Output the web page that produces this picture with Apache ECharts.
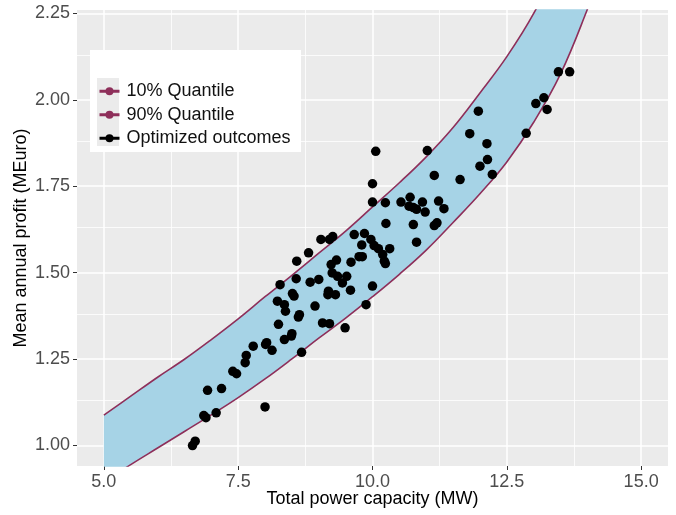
<!DOCTYPE html>
<html>
<head>
<meta charset="utf-8">
<script src="https://cdn.jsdelivr.net/npm/echarts@6/dist/echarts.min.js"></script>
<style>
html,body{margin:0;padding:0;background:#fff;}
#chart{width:676px;height:515px;}
</style>
</head>
<body>
<div id="chart"></div>
<script>
// ---- data ----
const xTicks = [5.0, 7.5, 10.0, 12.5, 15.0];
const yTicks = [1.00, 1.25, 1.50, 1.75, 2.00, 2.25];
const xMinor = [6.25, 8.75, 11.25, 13.75];
const yMinor = [1.125, 1.375, 1.625, 1.875, 2.125];

// quantile curves, sampled at common capacities (values above 2.26 lie outside the panel and are estimates)
const curveX = [5.0, 5.5, 6.0, 6.5, 7.0, 7.5, 8.0, 8.5, 9.0, 9.5, 10.0, 10.5, 11.0, 11.5, 12.0, 12.5, 13.0, 13.5, 14.0, 14.2];
const q10 = [0.893, 0.944, 0.992, 1.040, 1.088, 1.138, 1.192, 1.250, 1.310, 1.368, 1.430, 1.495, 1.565, 1.645, 1.728, 1.820, 1.935, 2.075, 2.262, 2.350];
const q90 = [1.087, 1.142, 1.197, 1.249, 1.306, 1.366, 1.430, 1.492, 1.556, 1.620, 1.690, 1.760, 1.835, 1.920, 2.020, 2.125, 2.250, 2.410, 2.600, 2.680];

// optimized outcomes
const ptsX = [6.65, 6.70, 6.86, 6.90, 7.09, 6.93, 7.19, 8.00, 7.40, 7.47, 7.63, 7.65, 7.78, 8.01, 8.03, 8.13, 8.36, 8.50, 8.49, 8.68,
  9.04, 9.20, 9.26, 9.66, 9.85, 8.81, 8.59, 9.80, 9.97, 10.03, 10.11, 10.32, 10.19, 10.22, 10.24, 9.60, 9.75, 9.81, 9.33, 9.23,
  9.25, 9.35, 9.52, 9.44, 8.58, 8.28, 8.84, 9.00, 9.59, 9.18, 9.17, 9.31, 8.51, 8.54, 8.23, 8.36, 8.38, 8.93, 8.64, 8.62,
  9.88, 8.25, 9.07, 9.20, 9.49, 10.06, 11.02, 10.00, 11.15, 11.63, 10.00, 10.24, 10.53, 10.70, 10.68, 10.76, 10.82, 10.93, 10.98, 11.23,
  11.33, 10.25, 10.76, 11.15, 11.20, 10.82, 13.46, 13.67, 13.04, 13.19, 13.25, 11.97, 11.81, 12.86, 12.13, 12.14, 12.00, 12.23, 10.00];
const ptsY = [0.999, 1.012, 1.086, 1.080, 1.094, 1.159, 1.164, 1.111, 1.214, 1.207, 1.239, 1.260, 1.287, 1.292, 1.297, 1.275, 1.306, 1.323, 1.316, 1.269,
  1.596, 1.596, 1.604, 1.610, 1.613, 1.557, 1.533, 1.580, 1.596, 1.578, 1.569, 1.569, 1.552, 1.533, 1.526, 1.530, 1.546, 1.546, 1.536, 1.523,
  1.499, 1.489, 1.489, 1.470, 1.482, 1.465, 1.472, 1.480, 1.449, 1.446, 1.436, 1.436, 1.439, 1.432, 1.417, 1.407, 1.388, 1.403, 1.378, 1.371,
  1.407, 1.350, 1.354, 1.352, 1.340, 1.851, 1.853, 1.757, 1.781, 1.769, 1.704, 1.702, 1.704, 1.718, 1.692, 1.688, 1.683, 1.704, 1.675, 1.707,
  1.685, 1.642, 1.639, 1.636, 1.644, 1.588, 2.081, 2.081, 1.989, 2.006, 1.972, 1.967, 1.902, 1.903, 1.873, 1.827, 1.808, 1.784, 1.461];

const legendNames = ['10% Quantile', '90% Quantile', 'Optimized outcomes'];
const xTitle = 'Total power capacity (MW)';
const yTitle = 'Mean annual profit (MEuro)';

// ---- build ----
// profit listed first so that ECharts stacks on the profit (y) dimension
const lowerData = q10.map((v, i) => [v, curveX[i]]);
const bandWidth = q90.map((v, i) => [v - q10[i], curveX[i]]); // stacked on the 10% curve -> 90% curve
const pts = ptsX.map((v, i) => [v, ptsY[i]]);

const FONT = '"Liberation Sans", Arial, sans-serif';
const LINE = '#8e2f5a';
const BAND = '#a6d3e6';
const SMOOTH = 0.4;
const DIMS = ['profit', 'capacity'];
const ENC = { x: 'capacity', y: 'profit' };

const gridLines = []
  .concat(xTicks.map(v => ({ xAxis: v, lineStyle: { width: 1.5 } })))
  .concat(xMinor.map(v => ({ xAxis: v, lineStyle: { width: 0.8 } })))
  .concat(yTicks.map(v => ({ yAxis: v, lineStyle: { width: 1.5 } })))
  .concat(yMinor.map(v => ({ yAxis: v, lineStyle: { width: 0.8 } })));

const chart = echarts.init(document.getElementById('chart'), null, { renderer: 'canvas' });
chart.setOption({
  animation: false,
  backgroundColor: '#ffffff',
  grid: { left: 77, right: 8, top: 10, bottom: 49, show: true, backgroundColor: '#ebebeb', borderWidth: 0 },
  xAxis: {
    type: 'value', min: 4.5, max: 15.5,
    axisLine: { show: false },
    axisTick: { show: true, customValues: xTicks, length: 4, lineStyle: { color: '#333333', width: 1 } },
    axisLabel: { customValues: xTicks, formatter: v => v.toFixed(1), color: '#4d4d4d', fontSize: 18, fontFamily: FONT, margin: 7 },
    splitLine: { show: false }
  },
  yAxis: {
    type: 'value', min: 0.94, max: 2.26,
    axisLine: { show: false },
    axisTick: { show: true, customValues: yTicks, length: 4, lineStyle: { color: '#333333', width: 1 } },
    axisLabel: { customValues: yTicks, formatter: v => v.toFixed(2), color: '#4d4d4d', fontSize: 18, fontFamily: FONT, margin: 7 },
    splitLine: { show: false }
  },
  legend: {
    orient: 'vertical', left: 98, top: 80, z: 20, padding: 0,
    itemWidth: 20, itemHeight: 10, itemGap: 1,
    textStyle: { fontSize: 18, fontFamily: FONT, color: '#111111', lineHeight: 22.5, padding: [0, 0, 0, 2] },
    data: [
      { name: legendNames[0], lineStyle: { width: 3, opacity: 1 } },
      { name: legendNames[1], lineStyle: { width: 3, opacity: 1 } },
      { name: legendNames[2], lineStyle: { width: 3, opacity: 1, color: '#000000' } }
    ]
  },
  graphic: [
    { type: 'rect', z: 10, shape: { x: 90, y: 50, width: 211, height: 102 }, style: { fill: '#ffffff' } },
    { type: 'rect', z: 11, shape: { x: 97, y: 78, width: 22, height: 68 }, style: { fill: '#ebebeb' } },
    { type: 'text', z: 10, x: 372.5, y: 499, style: { text: xTitle, font: '18px ' + FONT, fill: '#000000', align: 'center', verticalAlign: 'middle' } },
    { type: 'text', z: 10, x: 21, y: 238, rotation: Math.PI / 2, style: { text: yTitle, font: '18px ' + FONT, fill: '#000000', align: 'center', verticalAlign: 'middle' } }
  ],
  series: [
    {
      name: 'grid', type: 'line', data: [], z: 1, silent: true,
      markLine: { z: 1, silent: true, symbol: ['none', 'none'], label: { show: false }, animation: false,
        lineStyle: { color: '#ffffff', type: 'solid' }, emphasis: { disabled: true }, data: gridLines }
    },
    {
      name: legendNames[0], type: 'line', z: 4, stack: 'band', dimensions: DIMS, encode: ENC, data: lowerData,
      symbol: 'circle', showSymbol: false,
      smooth: SMOOTH, itemStyle: { color: LINE }, lineStyle: { color: LINE, width: 1.6 }, silent: true
    },
    {
      name: legendNames[1], type: 'line', z: 3, stack: 'band', dimensions: DIMS, encode: ENC, data: bandWidth,
      symbol: 'circle', showSymbol: false,
      smooth: SMOOTH, itemStyle: { color: LINE }, lineStyle: { color: LINE, width: 1.6 },
      areaStyle: { color: BAND, opacity: 1 }, silent: true
    },
    {
      name: legendNames[2], type: 'line', z: 5, data: pts, symbol: 'circle', symbolSize: 9.5, showSymbol: true,
      itemStyle: { color: '#000000' }, lineStyle: { opacity: 0, width: 0 }, silent: true
    }
  ]
});
</script>
</body>
</html>
